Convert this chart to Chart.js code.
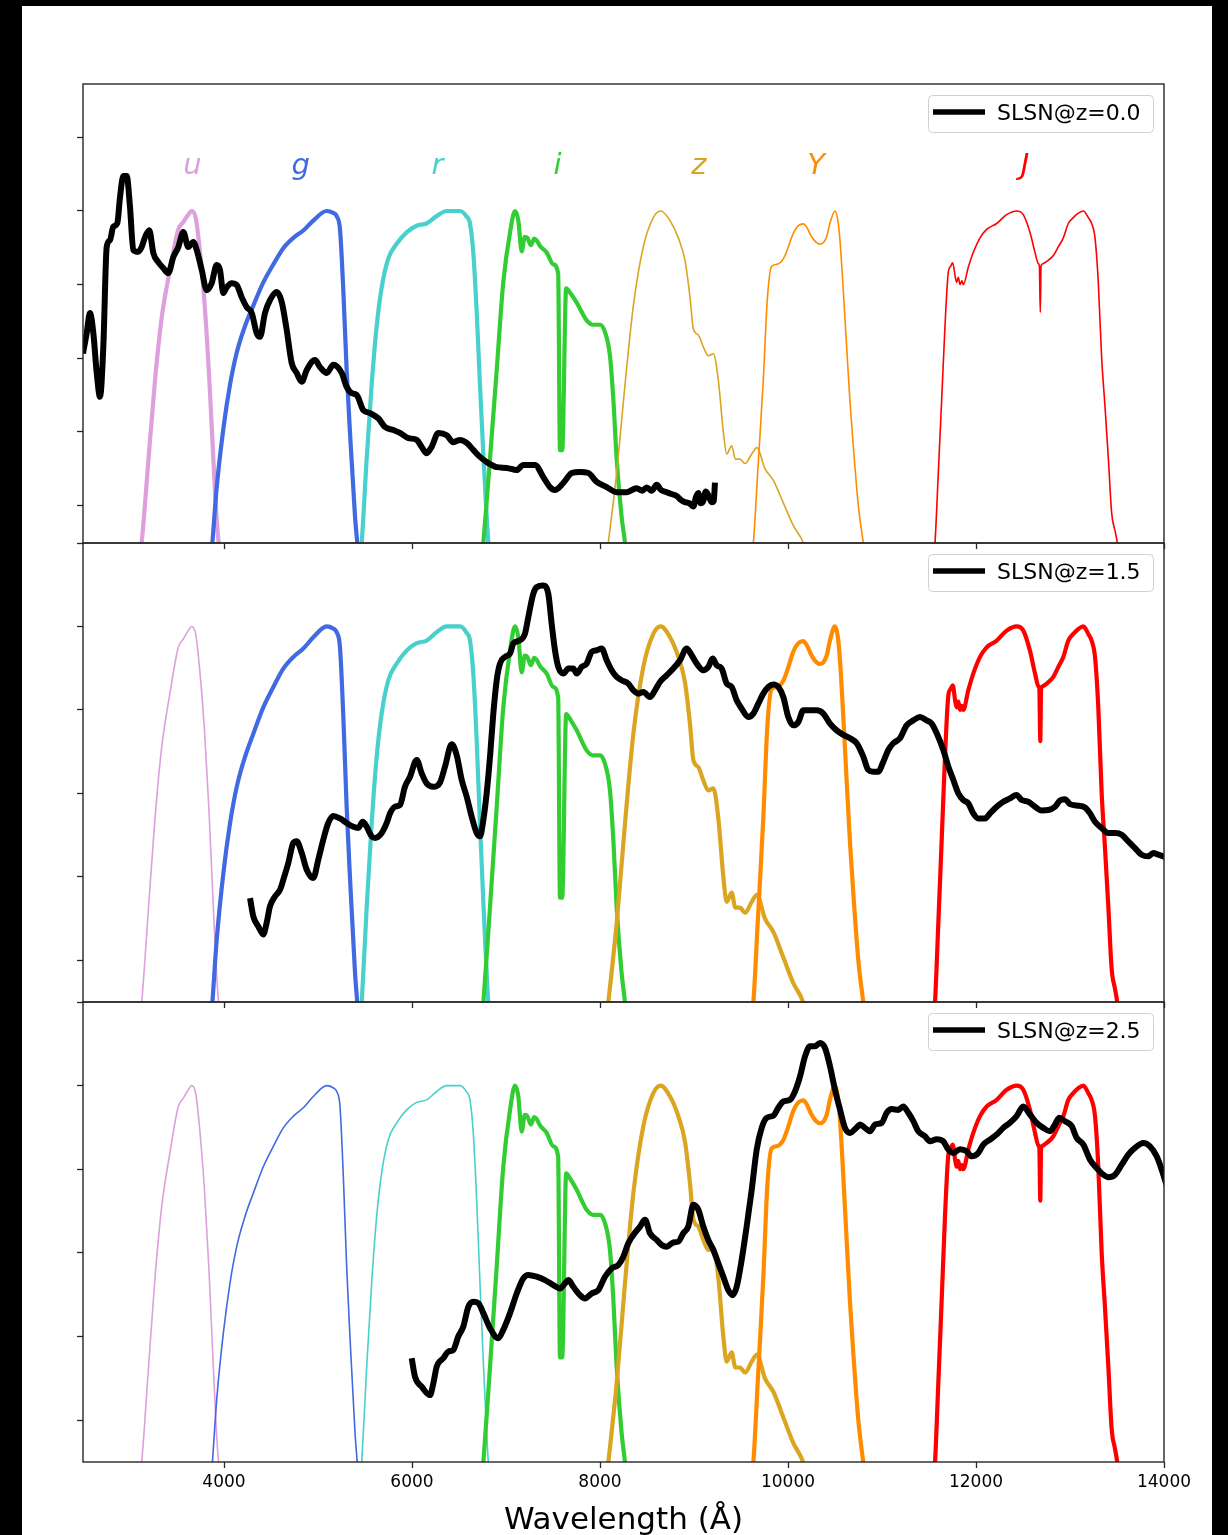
<!DOCTYPE html>
<html>
<head>
<meta charset="utf-8">
<title>SLSN spectra through the ugrizYJ filters</title>
<script src="https://cdn.jsdelivr.net/npm/chart.js@4.4.1/dist/chart.umd.min.js"></script>
<style>
  html, body { margin: 0; padding: 0; width: 1228px; height: 1535px; overflow: hidden; background: #000; }
  #sheet { position: absolute; left: 22px; top: 6px; width: 1190px; height: 1529px; background: #fff; }
  canvas.panel { position: absolute; left: 0; top: 0; }
</style>
</head>
<body>
<div id="sheet"></div>
<canvas id="panel0" class="panel" width="1228" height="1535"></canvas>
<canvas id="panel1" class="panel" width="1228" height="1535"></canvas>
<canvas id="panel2" class="panel" width="1228" height="1535"></canvas>
<script>
// ---- Filter transmission curves: [wavelength (Å), normalised throughput] ----
const filterU = [[3060,0.0],[3124,0.10],[3195,0.32],[3266,0.54],[3337,0.71],[3425,0.84],[3514,0.95],[3567,0.97],[3620,0.99],[3656,1.0],[3700,0.98],[3740,0.90],[3790,0.76],[3840,0.56],[3880,0.36],[3920,0.17],[3950,0.08],[3990,0.0]];
const filterG = [[3840,0.0],[3876,0.098],[3922,0.248],[3993,0.408],[4064,0.528],[4135,0.615],[4223,0.687],[4312,0.743],[4418,0.806],[4525,0.855],[4631,0.899],[4738,0.927],[4844,0.947],[4950,0.974],[5092,1.0],[5160,0.995],[5199,0.986],[5234,0.95],[5270,0.78],[5305,0.567],[5340,0.40],[5394,0.169],[5418,0.098],[5450,0.0]];
const filterR = [[5430,0.0],[5465,0.098],[5518,0.328],[5571,0.528],[5624,0.687],[5677,0.791],[5748,0.871],[5837,0.911],[5943,0.942],[6050,0.96],[6156,0.966],[6262,0.986],[6369,1.0],[6511,1.0],[6580,0.985],[6617,0.966],[6652,0.887],[6688,0.727],[6723,0.528],[6759,0.34],[6812,0.098],[6850,0.0]];
const filterI = [[6720,0.0],[6759,0.098],[6830,0.328],[6901,0.567],[6971,0.806],[7043,0.942],[7096,1.0],[7131,0.974],[7167,0.89],[7200,0.93],[7227,0.927],[7265,0.907],[7300,0.925],[7326,0.92],[7362,0.905],[7433,0.887],[7503,0.855],[7555,0.83],[7574,0.35],[7598,0.35],[7640,0.79],[7690,0.775],[7752,0.751],[7858,0.703],[7929,0.691],[8000,0.691],[8053,0.671],[8106,0.607],[8142,0.488],[8177,0.328],[8230,0.169],[8266,0.098],[8300,0.0]];
const filterZ = [[8040,0.0],[8088,0.098],[8177,0.288],[8266,0.528],[8355,0.743],[8461,0.903],[8567,0.982],[8645,1.0],[8745,0.974],[8833,0.927],[8904,0.866],[8957,0.767],[8993,0.68],[9046,0.663],[9099,0.631],[9152,0.607],[9206,0.612],[9259,0.54],[9312,0.40],[9348,0.34],[9401,0.362],[9440,0.326],[9489,0.326],[9543,0.314],[9614,0.340],[9670,0.357],[9755,0.30],[9844,0.268],[9950,0.207],[10057,0.145],[10163,0.098],[10260,0.0]];
const filterY = [[9570,0.0],[9631,0.098],[9680,0.30],[9737,0.54],[9780,0.76],[9826,0.85],[9879,0.855],[9950,0.87],[10000,0.90],[10057,0.94],[10110,0.96],[10163,0.965],[10200,0.955],[10252,0.93],[10300,0.915],[10340,0.91],[10380,0.915],[10411,0.93],[10450,0.97],[10500,1.0],[10530,0.975],[10553,0.92],[10589,0.78],[10624,0.63],[10660,0.48],[10695,0.36],[10748,0.2],[10801,0.098],[10850,0.0]];
const filterJ = [[11530,0.0],[11564,0.098],[11599,0.288],[11635,0.488],[11670,0.687],[11706,0.835],[11730,0.85],[11752,0.859],[11780,0.82],[11794,0.806],[11812,0.82],[11830,0.80],[11850,0.81],[11865,0.80],[11918,0.847],[11971,0.887],[12043,0.927],[12113,0.95],[12220,0.966],[12326,0.99],[12433,1.0],[12503,0.99],[12574,0.942],[12628,0.887],[12663,0.857],[12674,0.85],[12684,0.725],[12692,0.85],[12699,0.855],[12752,0.863],[12823,0.879],[12876,0.903],[12929,0.927],[12982,0.966],[13035,0.982],[13089,0.994],[13142,1.0],[13195,0.982],[13230,0.966],[13266,0.927],[13301,0.806],[13337,0.6],[13372,0.47],[13408,0.328],[13443,0.18],[13480,0.13],[13503,0.098],[13540,0.0]];

const filterCurves = [filterU, filterG, filterR, filterI, filterZ, filterY, filterJ];
const filterNames  = ['u', 'g', 'r', 'i', 'z', 'Y', 'J'];
const filterColors = ['plum', 'royalblue', 'mediumturquoise', 'limegreen', 'goldenrod', 'darkorange', 'red'];
// where each band name sits above the curves (Å, flux units)
const filterLabelWave = [3665, 4817, 6271, 7548, 9053, 10300, 12521];
const filterLabelLevel = 1.1;

// ---- SLSN template spectrum observed at three redshifts: [wavelength (Å), flux] ----
const spectrumZ00 = [[2500,0.613],[2539,0.668],[2574,0.723],[2610,0.668],[2646,0.560],[2681,0.495],[2716,0.630],[2752,0.902],[2787,0.921],[2822,0.957],[2865,0.967],[2894,1.038],[2929,1.095],[2965,1.095],[3000,1.011],[3035,0.894],[3088,0.889],[3124,0.902],[3160,0.929],[3205,0.948],[3248,0.886],[3301,0.861],[3354,0.845],[3407,0.831],[3461,0.875],[3514,0.902],[3567,0.943],[3620,0.902],[3673,0.916],[3710,0.894],[3763,0.840],[3816,0.785],[3869,0.804],[3922,0.853],[3957,0.840],[3993,0.777],[4029,0.793],[4082,0.804],[4135,0.799],[4188,0.766],[4241,0.739],[4295,0.723],[4348,0.668],[4383,0.658],[4436,0.723],[4489,0.758],[4561,0.780],[4614,0.753],[4667,0.677],[4720,0.587],[4773,0.560],[4827,0.536],[4880,0.568],[4968,0.595],[5021,0.576],[5093,0.560],[5163,0.582],[5252,0.560],[5305,0.522],[5358,0.505],[5412,0.500],[5482,0.459],[5553,0.451],[5641,0.437],[5713,0.413],[5801,0.405],[5872,0.397],[5961,0.383],[6050,0.378],[6103,0.359],[6156,0.342],[6209,0.359],[6280,0.397],[6369,0.391],[6439,0.372],[6511,0.378],[6582,0.370],[6652,0.351],[6723,0.332],[6812,0.315],[6901,0.304],[7007,0.302],[7114,0.296],[7184,0.310],[7309,0.310],[7397,0.277],[7468,0.250],[7521,0.242],[7610,0.261],[7699,0.288],[7787,0.291],[7876,0.288],[7965,0.264],[8071,0.250],[8177,0.236],[8284,0.236],[8390,0.247],[8450,0.240],[8497,0.249],[8550,0.240],[8603,0.256],[8650,0.242],[8709,0.236],[8760,0.231],[8816,0.226],[8860,0.215],[8904,0.209],[8950,0.206],[8993,0.197],[9020,0.222],[9046,0.234],[9070,0.206],[9099,0.212],[9125,0.238],[9152,0.228],[9188,0.209],[9210,0.212],[9223,0.262]];
const spectrumZ15 = [[4277,0.349],[4312,0.305],[4365,0.281],[4418,0.262],[4454,0.290],[4489,0.329],[4542,0.353],[4596,0.369],[4631,0.393],[4684,0.433],[4737,0.481],[4773,0.485],[4827,0.457],[4880,0.417],[4950,0.397],[5003,0.441],[5056,0.489],[5109,0.529],[5163,0.546],[5234,0.540],[5305,0.529],[5376,0.520],[5429,0.517],[5475,0.532],[5518,0.520],[5571,0.497],[5606,0.493],[5678,0.505],[5731,0.529],[5766,0.552],[5819,0.568],[5872,0.572],[5925,0.616],[5979,0.640],[6050,0.680],[6103,0.648],[6156,0.624],[6227,0.616],[6298,0.626],[6351,0.664],[6422,0.718],[6475,0.692],[6529,0.632],[6582,0.592],[6635,0.544],[6688,0.505],[6723,0.497],[6759,0.536],[6794,0.600],[6830,0.688],[6865,0.791],[6901,0.871],[6936,0.911],[6989,0.927],[7043,0.935],[7078,0.959],[7149,0.967],[7202,0.983],[7237,1.022],[7290,1.078],[7326,1.094],[7397,1.098],[7450,1.078],[7486,1.006],[7521,0.943],[7556,0.903],[7610,0.887],[7663,0.899],[7716,0.899],[7752,0.887],[7805,0.903],[7858,0.911],[7911,0.939],[7965,0.943],[8018,0.947],[8071,0.919],[8124,0.895],[8177,0.879],[8230,0.871],[8301,0.863],[8355,0.847],[8408,0.839],[8461,0.843],[8532,0.831],[8585,0.847],[8638,0.867],[8709,0.883],[8780,0.899],[8851,0.919],[8922,0.947],[8975,0.931],[9029,0.911],[9099,0.895],[9152,0.903],[9199,0.923],[9241,0.907],[9295,0.899],[9348,0.863],[9401,0.855],[9454,0.823],[9507,0.803],[9578,0.783],[9631,0.791],[9684,0.815],[9737,0.839],[9790,0.855],[9844,0.861],[9897,0.855],[9950,0.831],[10003,0.783],[10057,0.763],[10110,0.771],[10163,0.799],[10234,0.799],[10305,0.799],[10376,0.791],[10447,0.767],[10518,0.751],[10589,0.740],[10660,0.732],[10731,0.720],[10801,0.688],[10854,0.656],[10907,0.652],[10960,0.652],[11014,0.676],[11067,0.704],[11120,0.720],[11191,0.732],[11262,0.763],[11333,0.775],[11404,0.783],[11475,0.775],[11528,0.767],[11582,0.744],[11652,0.704],[11706,0.664],[11759,0.632],[11812,0.600],[11865,0.584],[11918,0.576],[11971,0.552],[12024,0.540],[12096,0.540],[12149,0.552],[12220,0.568],[12290,0.580],[12361,0.588],[12432,0.596],[12486,0.584],[12556,0.580],[12628,0.568],[12699,0.559],[12769,0.560],[12840,0.568],[12894,0.583],[12947,0.586],[13000,0.574],[13071,0.571],[13160,0.566],[13213,0.552],[13266,0.532],[13337,0.517],[13408,0.505],[13479,0.505],[13550,0.501],[13620,0.485],[13691,0.469],[13762,0.453],[13833,0.449],[13886,0.457],[13939,0.453],[13993,0.449],[14050,0.445]];
const spectrumZ25 = [[5997,0.348],[6032,0.304],[6103,0.280],[6191,0.260],[6227,0.288],[6263,0.328],[6333,0.348],[6386,0.364],[6439,0.368],[6492,0.400],[6546,0.424],[6599,0.471],[6652,0.483],[6705,0.480],[6759,0.456],[6830,0.420],[6918,0.396],[6971,0.416],[7043,0.456],[7114,0.503],[7184,0.539],[7237,0.547],[7326,0.543],[7415,0.535],[7503,0.523],[7574,0.515],[7627,0.527],[7663,0.535],[7716,0.519],[7787,0.499],[7840,0.491],[7911,0.503],[7982,0.511],[8053,0.543],[8124,0.563],[8195,0.571],[8248,0.591],[8301,0.623],[8355,0.643],[8426,0.663],[8479,0.679],[8532,0.647],[8603,0.631],[8656,0.619],[8709,0.615],[8780,0.625],[8833,0.627],[8886,0.647],[8939,0.663],[8993,0.715],[9046,0.703],[9099,0.663],[9152,0.631],[9206,0.607],[9259,0.575],[9312,0.543],[9365,0.511],[9412,0.499],[9454,0.519],[9507,0.583],[9560,0.663],[9614,0.751],[9667,0.847],[9720,0.899],[9773,0.923],[9844,0.928],[9897,0.947],[9950,0.962],[10021,0.966],[10074,0.986],[10128,1.022],[10181,1.070],[10234,1.094],[10287,1.094],[10340,1.102],[10394,1.090],[10447,1.046],[10500,0.990],[10553,0.943],[10606,0.899],[10660,0.887],[10731,0.900],[10766,0.907],[10819,0.899],[10872,0.891],[10926,0.907],[10997,0.911],[11050,0.935],[11103,0.944],[11173,0.942],[11226,0.950],[11280,0.935],[11333,0.915],[11386,0.891],[11457,0.879],[11510,0.867],[11582,0.872],[11652,0.867],[11706,0.847],[11759,0.839],[11830,0.848],[11901,0.843],[11954,0.831],[12024,0.839],[12078,0.859],[12149,0.871],[12220,0.883],[12290,0.899],[12361,0.911],[12432,0.927],[12503,0.950],[12574,0.931],[12645,0.911],[12716,0.899],[12787,0.891],[12840,0.907],[12886,0.923],[12947,0.915],[13018,0.903],[13071,0.875],[13142,0.859],[13213,0.823],[13284,0.803],[13354,0.787],[13408,0.781],[13479,0.787],[13550,0.811],[13620,0.835],[13691,0.851],[13780,0.863],[13851,0.855],[13922,0.831],[13993,0.787],[14030,0.760]];

const spectra = [spectrumZ00, spectrumZ15, spectrumZ25];
const spectrumLabels = ['SLSN@z=0.0', 'SLSN@z=1.5', 'SLSN@z=2.5'];

// ---- axes ----
const xTickValues = [4000, 6000, 8000, 10000, 12000, 14000];
const yTickValues = [0.2, 0.4, 0.6, 0.8, 1.0, 1.2];
const xTitle = 'Wavelength (Å)';

// ---- page layout of the three stacked panels ----
const PAGE_H = 1535;
const panels = [
  { top: 84,   bottom: 543,  yMin: 0.098, yMax: 1.345, bold: ['u', 'g', 'r', 'i'],           bandNames: true,  xLabels: false },
  { top: 543,  bottom: 1002, yMin: 0.1,   yMax: 1.2,   bold: ['g', 'r', 'i', 'z', 'Y', 'J'], bandNames: false, xLabels: false },
  { top: 1002, bottom: 1462, yMin: 0.1,   yMax: 1.2,   bold: ['i', 'z', 'Y', 'J'],           bandNames: false, xLabels: true  }
];

const FONT = "'DejaVu Sans', 'Liberation Sans', sans-serif";
const toXY = pairs => pairs.map(([x, y]) => ({ x, y }));

// axes frame on all four sides
const framePlugin = {
  id: 'frame',
  afterDatasetsDraw(chart) {
    const { ctx, chartArea: a } = chart;
    ctx.save();
    ctx.strokeStyle = '#262626';
    ctx.lineWidth = 1.4;
    ctx.strokeRect(a.left, a.top, a.right - a.left, a.bottom - a.top);
    ctx.restore();
  }
};

// italic band names above the transmission curves
const bandNamePlugin = {
  id: 'bandNames',
  afterDatasetsDraw(chart, args, opts) {
    if (!opts.show) return;
    const { ctx, scales: { x, y } } = chart;
    ctx.save();
    ctx.font = 'italic 29px ' + FONT;
    ctx.textAlign = 'center';
    ctx.textBaseline = 'alphabetic';
    filterNames.forEach((name, i) => {
      ctx.fillStyle = filterColors[i];
      ctx.fillText(name, x.getPixelForValue(filterLabelWave[i]), y.getPixelForValue(filterLabelLevel));
    });
    ctx.restore();
  }
};

// boxed legend in the upper-right corner, showing the spectrum entry
const cornerLegendPlugin = {
  id: 'cornerLegend',
  afterDraw(chart) {
    const { ctx, chartArea: a } = chart;
    const ds = chart.data.datasets[0];
    const w = 225, h = 37;
    const bx = a.right - 11 - w, by = a.top + 11;
    ctx.save();
    ctx.beginPath();
    ctx.roundRect(bx + 0.5, by + 0.5, w, h, 4);
    ctx.fillStyle = 'rgba(255,255,255,0.8)';
    ctx.fill();
    ctx.strokeStyle = '#d0d0d0';
    ctx.lineWidth = 1;
    ctx.stroke();
    ctx.beginPath();
    ctx.moveTo(bx + 5, by + 17);
    ctx.lineTo(bx + 57, by + 17);
    ctx.strokeStyle = ds.borderColor;
    ctx.lineWidth = 5.5;
    ctx.lineCap = 'butt';
    ctx.stroke();
    ctx.font = '22px ' + FONT;
    ctx.fillStyle = '#000';
    ctx.textAlign = 'left';
    ctx.textBaseline = 'alphabetic';
    ctx.fillText(ds.label, bx + 69, by + 25);
    ctx.restore();
  }
};

function buildPanel(index) {
  const p = panels[index];
  const datasets = [{
    label: spectrumLabels[index],
    data: toXY(spectra[index]),
    borderColor: '#000',
    borderWidth: 6,
    cubicInterpolationMode: 'monotone',
    order: 0
  }];
  filterCurves.forEach((curve, i) => {
    datasets.push({
      label: filterNames[i],
      data: toXY(curve),
      borderColor: filterColors[i],
      borderWidth: p.bold.includes(filterNames[i]) ? 4.2 : 1.6,
      cubicInterpolationMode: 'monotone',
      order: 10 - i
    });
  });

  const tickGrid = { drawOnChartArea: false, drawTicks: true, tickLength: 6, tickWidth: 1.3, tickColor: '#262626' };

  return new Chart(document.getElementById('panel' + index), {
    type: 'line',
    data: { datasets },
    plugins: [framePlugin, bandNamePlugin, cornerLegendPlugin],
    options: {
      responsive: false,
      animation: false,
      devicePixelRatio: 1,
      events: [],
      parsing: false,
      layout: { padding: { left: 0, right: 64, top: p.top, bottom: 0 } },
      elements: {
        point: { radius: 0 },
        line: { borderJoinStyle: 'round', borderCapStyle: 'butt', fill: false }
      },
      datasets: { line: { clip: 0 } },
      plugins: {
        legend: { display: false },
        tooltip: { enabled: false },
        bandNames: { show: p.bandNames }
      },
      scales: {
        x: {
          type: 'linear',
          min: 2500,
          max: 14000,
          afterBuildTicks: s => { s.ticks = xTickValues.map(v => ({ value: v })); },
          afterFit: s => { s.height = PAGE_H - p.bottom; },
          grid: tickGrid,
          border: { display: false },
          ticks: {
            display: p.xLabels,
            autoSkip: false,
            maxRotation: 0,
            padding: 4,
            color: '#000',
            font: { family: FONT, size: 17 },
            callback: v => String(v)
          },
          title: {
            display: p.xLabels,
            text: xTitle,
            color: '#000',
            font: { family: FONT, size: 31, lineHeight: 0.9 },
            padding: 0
          }
        },
        y: {
          type: 'linear',
          min: p.yMin,
          max: p.yMax,
          afterBuildTicks: s => { s.ticks = yTickValues.map(v => ({ value: v })); },
          afterFit: s => { s.width = 83; },
          grid: tickGrid,
          border: { display: false },
          ticks: { display: false }
        }
      }
    }
  });
}

panels.forEach((_, i) => buildPanel(i));
</script>
</body>
</html>
